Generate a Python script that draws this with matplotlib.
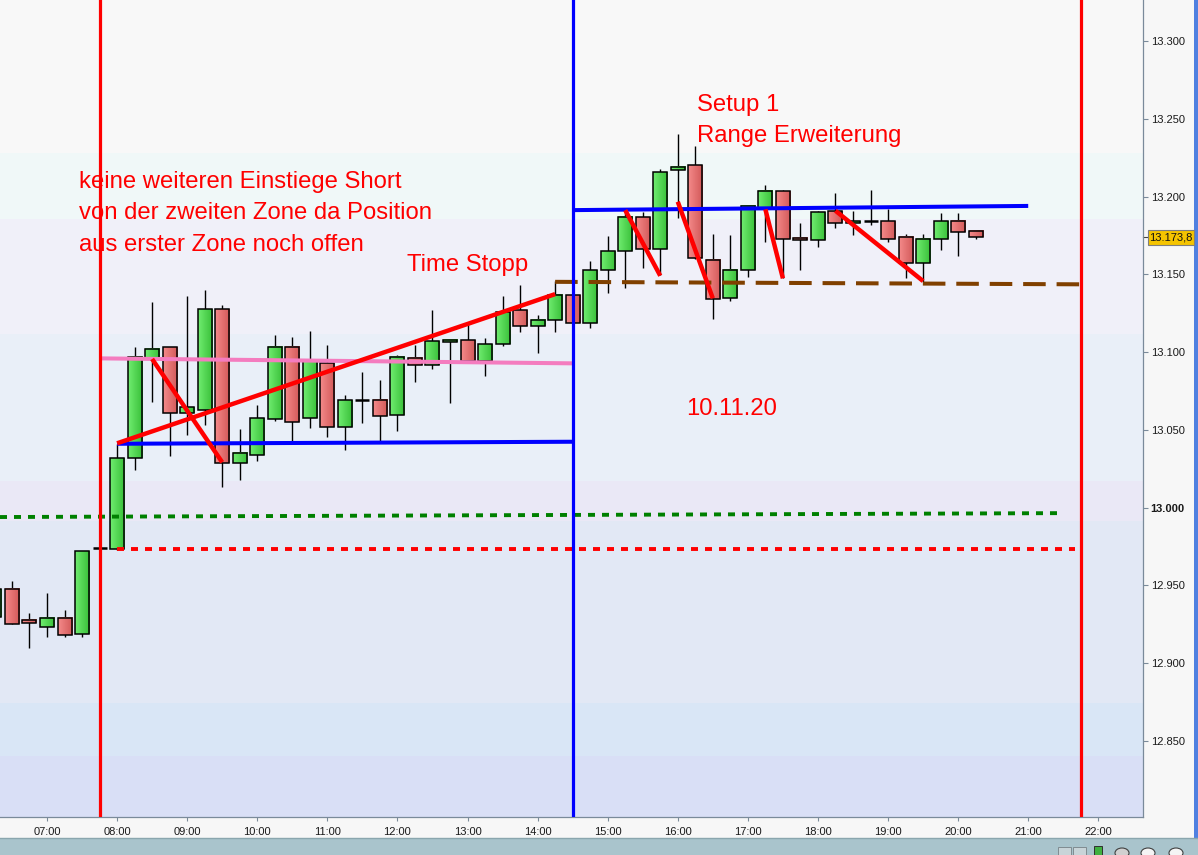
import matplotlib
matplotlib.use("Agg")
import matplotlib.pyplot as plt
import numpy as np
from matplotlib.patches import Rectangle, Circle
from matplotlib.lines import Line2D
from matplotlib.colors import LinearSegmentedColormap
from matplotlib.transforms import blended_transform_factory

plt.rcParams['font.family'] = ['Liberation Sans', 'DejaVu Sans']

# ---------------- data ----------------
times = ["06:15", "06:30", "06:45", "07:00", "07:15", "07:30", "07:45",
         "08:00", "08:15", "08:30", "08:45", "09:00", "09:15", "09:30", "09:45",
         "10:00", "10:15", "10:30", "10:45", "11:00", "11:15", "11:30", "11:45",
         "12:00", "12:15", "12:30", "12:45", "13:00", "13:15", "13:30", "13:45",
         "14:00", "14:15", "14:30", "14:45", "15:00", "15:15", "15:30", "15:45",
         "16:00", "16:15", "16:30", "16:45", "17:00", "17:15", "17:30", "17:45",
         "18:00", "18:15", "18:30", "18:45", "19:00", "19:15", "19:30", "19:45",
         "20:00", "20:15"]
opens = [12930, 12948, 12928, 12923, 12929, 12919, 12974,
         12973.5, 13032, 13096, 13103, 13061, 13063, 13127.5, 13028.5,
         13034, 13057, 13103.5, 13057.5, 13093, 13052, 13069.5, 13069.5,
         13059.5, 13096.5, 13092, 13106.5, 13107.5, 13094.5, 13105.5, 13127,
         13116.5, 13120.5, 13136.5, 13119, 13153, 13165, 13187, 13166.5,
         13217, 13220, 13159.5, 13134.5, 13152.5, 13192.5, 13203.5, 13173.5,
         13172, 13190.5, 13183, 13184.5, 13184.5, 13174, 13157, 13173,
         13184.5, 13178]
highs = [12948, 12953, 12932, 12945, 12934, 12972, 12974,
         13041, 13103.5, 13132, 13103.5, 13136, 13140, 13130, 13050.5,
         13066, 13111, 13110, 13113.5, 13104.5, 13072.5, 13087.5, 13082,
         13098, 13104.5, 13127, 13108.5, 13119.5, 13109, 13136, 13143,
         13124, 13145.5, 13138, 13158.5, 13174.5, 13192, 13190, 13218,
         13240.5, 13232.5, 13176, 13175, 13194.5, 13207.5, 13204, 13183,
         13191, 13202.5, 13191, 13204, 13192, 13176, 13176, 13189.5,
         13189.5, 13178.5]
lows = [12930, 12925, 12910, 12917, 12917, 12917, 12973.5,
        12973, 13024, 13068, 13033, 13047, 13053, 13013.5, 13017.5,
        13030, 13056, 13042.5, 13051, 13045.5, 13037, 13054.5, 13043,
        13049, 13080.5, 13089, 13067.5, 13094.5, 13084.5, 13104, 13113,
        13099.5, 13113, 13118, 13115.5, 13138, 13141, 13154, 13149.5,
        13186.5, 13160, 13121.5, 13133, 13148.5, 13171, 13147.5, 13153,
        13167.5, 13180, 13175.5, 13181.5, 13171, 13147.5, 13145, 13165.5,
        13161.5, 13172.5]
closes = [12948, 12925, 12926, 12929, 12918, 12972, 12973.5,
          13032, 13097, 13102, 13061, 13064.5, 13127.5, 13028.5, 13035,
          13057.5, 13103.5, 13055, 13094, 13052, 13069, 13069.5, 13059,
          13097, 13091.5, 13107, 13108, 13094.5, 13105, 13126, 13117,
          13120.5, 13137, 13119, 13153, 13165, 13187, 13166.5, 13215.5,
          13219, 13160.5, 13134, 13153, 13194, 13203.5, 13173, 13172,
          13190, 13183, 13184, 13184.5, 13173, 13157, 13173, 13184.5,
          13177, 13173.8]

y_ticks = [12850, 12900, 12950, 13000, 13050, 13100, 13150, 13200, 13250, 13300]
x_tick_hours = list(range(7, 23))
last_price = 13173.8
last_price_label = "13.173,8"

# zone bands (price edges) and their tints
band_edges = [12790, 12840.6, 12874.7, 12991.6, 13017.2, 13111.4, 13185.7, 13228.0, 13340]
band_colors = ['#d9dff6', '#d9e6f6', '#e2e8f5', '#eae8f6', '#e9eff8', '#f0f0f9', '#f0f8f8', '#f8f8f8']

# vertical session markers
vlines_red = ["07:45", "21:45"]
vline_blue = "14:30"

# drawn lines: (t0, p0, t1, p1)
pink_line = ("07:45", 13096.0, "14:30", 13092.8)
blue_low = ("08:00", 13041.1, "14:30", 13042.4)
blue_high = ("14:30", 13191.3, "21:00", 13194.0)
red_trend = ("08:00", 13041.4, "14:15", 13137.3)
red_swings = [("08:30", 13095.6, "09:30", 13029.2),
              ("15:15", 13191.3, "15:45", 13149.1),
              ("16:00", 13196.7, "16:30", 13134.6),
              ("17:15", 13191.8, "17:30", 13147.4),
              ("18:15", 13190.9, "19:30", 13145.7)]
brown_dash = ("14:15", 13145.2, "21:45", 13143.6)
green_dot = ("06:15", 12994.0, "21:25", 12996.5)
red_dot = ("08:00", 12973.5, "21:40", 12973.5)


def hrs(t):
    h, m = t.split(":")
    return int(h) + int(m) / 60.0


# ---------------- figure ----------------
W, H = 1198, 855
fig = plt.figure(figsize=(W / 100, H / 100), dpi=100)
fig.patch.set_facecolor('#f7f7f7')

plot_bottom_px = 817
ax = fig.add_axes([0, (H - plot_bottom_px) / H, 1143 / W, plot_bottom_px / H])

px_per_pt = 700 / 450.0
y0_px = 507.7
ytop = 13000 + y0_px / px_per_pt
ybot = 13000 - (plot_bottom_px - y0_px) / px_per_pt
px_per_h = (1098.3 - 47) / 15.0
xleft = 7 - 47 / px_per_h
xright = 7 + (1143 - 47) / px_per_h

for i in range(len(band_colors)):
    ax.axhspan(band_edges[i], band_edges[i + 1], color=band_colors[i], lw=0, zorder=0)

# candles
gcmap = LinearSegmentedColormap.from_list('g', ['#70ec70', '#38c038'])
rcmap = LinearSegmentedColormap.from_list('r', ['#f48a8a', '#d25858'])
grad = np.linspace(0, 1, 32).reshape(1, -1)
bw = 0.2
for t, o, h, l, c in zip(times, opens, highs, lows, closes):
    x = hrs(t)
    ax.plot([x, x], [l, h], color='black', lw=1.0, zorder=2, solid_capstyle='butt')
    lo, hi = min(o, c), max(o, c)
    if hi - lo < 0.8:
        ax.plot([x - bw / 2, x + bw / 2], [o, o], color='black', lw=1.8, zorder=3,
                solid_capstyle='butt')
        continue
    cm = gcmap if c > o else rcmap
    ax.imshow(grad, cmap=cm, extent=[x - bw / 2, x + bw / 2, lo, hi], aspect='auto',
              interpolation='bilinear', zorder=3)
    ax.add_patch(Rectangle((x - bw / 2, lo), bw, hi - lo, fill=False, ec='black', lw=1.1, zorder=4))


def seg(s, **kw):
    t0, p0, t1, p1 = s
    x0 = xleft if t0 == "06:15" else hrs(t0)
    ax.plot([x0, hrs(t1)], [p0, p1], **kw)


seg(green_dot, color='#008000', lw=2.8, linestyle=(0, (1.8, 1.8)), zorder=5)
seg(red_dot, color='#ff0000', lw=2.8, linestyle=(0, (1.8, 1.8)), zorder=5)
seg(brown_dash, color='#804000', lw=2.9, linestyle=(0, (5.6, 2.7)), zorder=5)
seg(pink_line, color='#f47cbf', lw=2.9, zorder=5, solid_capstyle='butt')
seg(blue_low, color='#0000ff', lw=2.9, zorder=5, solid_capstyle='butt')
seg(blue_high, color='#0000ff', lw=2.9, zorder=5, solid_capstyle='butt')
seg(red_trend, color='#ff0000', lw=3.2, zorder=6, solid_capstyle='butt')
for s in red_swings:
    seg(s, color='#ff0000', lw=3.2, zorder=6, solid_capstyle='butt')

for t in vlines_red:
    ax.axvline(hrs(t), color='#ff0000', lw=2.3, zorder=7)
ax.axvline(hrs(vline_blue), color='#0000ff', lw=2.3, zorder=7)

ax.set_xlim(xleft, xright)
ax.set_ylim(ybot, ytop)

# axes styling
ax.yaxis.tick_right()
ax.set_yticks(y_ticks)
ax.set_yticklabels([f"{v / 1000:.3f}" for v in y_ticks])
for lab, v in zip(ax.get_yticklabels(), y_ticks):
    if v == 13000:
        lab.set_fontweight('bold')
ax.set_xticks(x_tick_hours)
ax.set_xticklabels([f"{h:02d}:00" for h in x_tick_hours])
ax.tick_params(axis='y', direction='out', length=3.5, width=0.8, color='#7a8a9a',
               pad=2, labelsize=8, labelcolor='#1a1a1a')
ax.tick_params(axis='x', direction='out', length=3, width=0.8, color='#7a8a9a',
               pad=4, labelsize=8, labelcolor='#1a1a1a')
for side in ['left', 'top']:
    ax.spines[side].set_visible(False)
for side in ['right', 'bottom']:
    ax.spines[side].set_color('#7a8a9a')
    ax.spines[side].set_linewidth(0.9)

# last price tag (box spans from 5 px right of the axis to just before the window border)
ytrans = blended_transform_factory(ax.transAxes, ax.transData)
ax.plot([1.0, 1.004], [last_price, last_price], transform=ytrans, color='#444444', lw=0.8, clip_on=False)
tag_y = ax.transData.transform((0, last_price))[1] / H   # figure fraction of the price
tag_h = 15.6 / H
fig.add_artist(Rectangle((1148 / W, tag_y - tag_h / 2), 45.5 / W, tag_h, transform=fig.transFigure,
                         fc='#f5c400', ec='#7f7f7f', lw=0.8, zorder=10))
fig.text(1170.8 / W, tag_y, last_price_label, ha='center', va='center', fontsize=8,
         color='#111111', zorder=11)

# annotations
def ftext(xp, yp, s):
    fig.text(xp / W, 1 - yp / H, s, color='#ff0000', fontsize=17.2, va='baseline', ha='left')

ftext(79.3, 187.7, "keine weiteren Einstiege Short")
ftext(79.3, 219.3, "von der zweiten Zone da Position")
ftext(79.3, 251.0, "aus erster Zone noch offen")
ftext(406.7, 270.7, "Time Stopp")
ftext(697.3, 110.5, "Setup 1")
ftext(697.3, 142.0, "Range Erweiterung")
ftext(686.0, 415.0, "10.11.20")

# window chrome: toolbar and right border
fig.add_artist(Rectangle((0, 0), 1, 17 / H, transform=fig.transFigure, fc='#a9c4cc', ec='none', zorder=0))
fig.add_artist(Line2D([0, 1], [17 / H, 17 / H], transform=fig.transFigure, color='#8aa6ae', lw=1))
fig.add_artist(Rectangle((1194 / W, 17 / H), 4 / W, 1 - 17 / H, transform=fig.transFigure,
                         fc='#5080e0', ec='none'))
for xc, fc in [(1122, '#d0d0d0'), (1148, '#f4f4f4'), (1176, '#f4f4f4')]:
    fig.add_artist(Circle((xc / W, 2 / H), 7 / W, transform=fig.transFigure, fc=fc, ec='#404040', lw=0.8))
for xc in [1058, 1073]:
    fig.add_artist(Rectangle((xc / W, 0), 13 / W, 8 / H, transform=fig.transFigure, fc='#c8d4d8', ec='#808c90', lw=0.7))
fig.add_artist(Rectangle((1094 / W, 0), 8 / W, 9 / H, transform=fig.transFigure, fc='#40b040', ec='#303030', lw=0.7))

fig.savefig("out.png", dpi=100, facecolor=fig.get_facecolor())
